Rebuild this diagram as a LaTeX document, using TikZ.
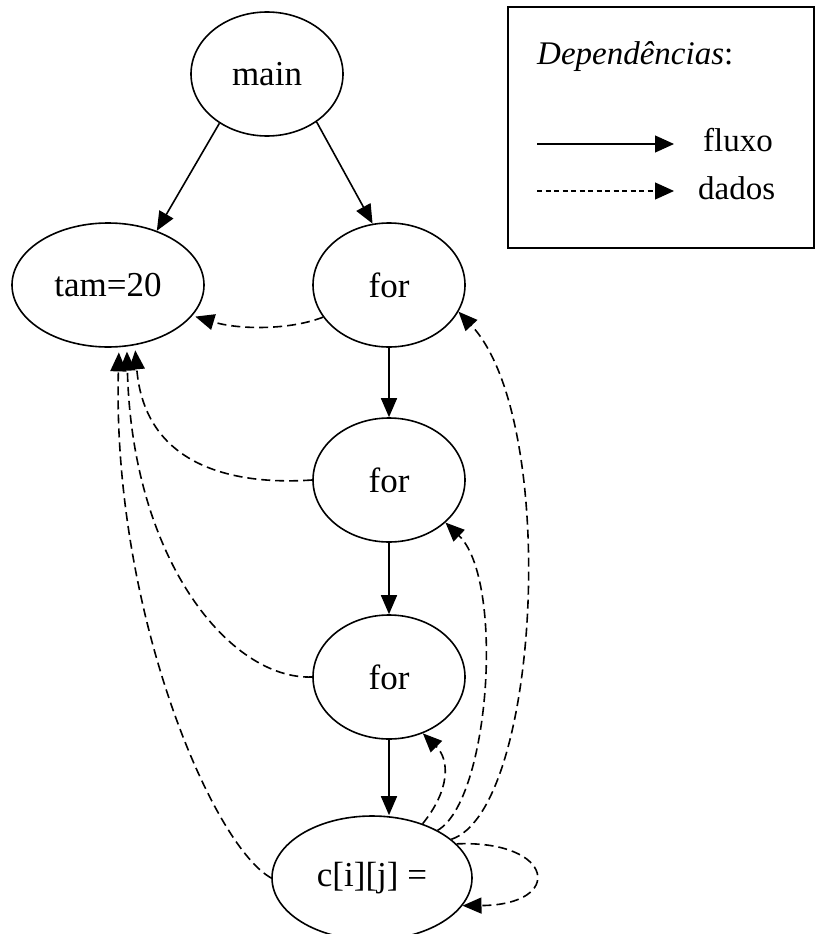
\documentclass[tikz,border=0pt]{standalone}
\usepackage{fontspec}
\setmainfont{Liberation Serif}
\usetikzlibrary{shapes.geometric,arrows.meta}
\begin{document}
\begin{tikzpicture}[x=1pt,y=-1pt,
  stmt/.style={ellipse,draw,line width=1.6pt,inner sep=0pt,
    minimum width=152pt,minimum height=124pt,
    font=\fontsize{35}{40}\selectfont},
  flow/.style={line width=1.6pt,-{Triangle[length=19pt,width=16pt]}},
  data/.style={line width=1.6pt,dash pattern=on 9pt off 5pt,
    -{Triangle[length=19pt,width=16pt]}},
  legflow/.style={line width=1.2pt,-{Triangle[length=19pt,width=17pt]}},
  legdata/.style={line width=1.2pt,dash pattern=on 5pt off 3.5pt,
    -{Triangle[length=19pt,width=17pt]}},
  legtext/.style={anchor=west,inner sep=0pt,font=\fontsize{33}{38}\selectfont}]
\useasboundingbox (0,0) rectangle (816,934);

% statements
\node[stmt] (main) at (267,74) {main};
\node[stmt,minimum width=192pt] (tam) at (108,285) {tam=20};
\node[stmt] (f1) at (389,285) {for};
\node[stmt] (f2) at (389,480) {for};
\node[stmt] (f3) at (389,677) {for};
\node[stmt,minimum width=200pt] (c) at (372,878) {c[i][j] =};

% control flow
\draw[flow] (main.226) -- (tam.48);
\draw[flow] (main.-44) -- (f1.105);
\draw[flow] (f1.south) -- (f2.north);
\draw[flow] (f2.south) -- (f3.north);
\draw[flow] (f3.south) -- (c.north -| f3.south);

% data dependences
\draw[data,shorten >=3pt] (f1.206) .. controls (290,330) and (240,330) .. (tam.-20);
\draw[data,shorten >=5pt] (f2.west) .. controls (240,485) and (145,470) .. (tam.-66);
\draw[data,shorten >=5pt] (f3.west) .. controls (230,680) and (132,560) .. (tam.-73);
\draw[data,shorten >=5pt] (c.west) .. controls (212,845) and (112,610) .. (tam.-80);
\draw[data] (c.26) .. controls (540,810) and (560,420) .. (f1.-21);
\draw[data] (c.36) .. controls (490,800) and (505,580) .. (f2.-37);
\draw[data] (c.47) .. controls (450,790) and (450,760) .. (f3.-59);
\draw[data] (c.22) .. controls (555,840) and (565,905) .. (c.-17);

% legend
\node[draw,line width=1.2pt,minimum width=306pt,minimum height=241pt,
  inner sep=0pt] (legend) at (661,127.5) {};
\node[legtext] (title) at (537,57) {\textit{Dependências}:};
\coordinate (fa) at (537,144);
\coordinate (fb) at (674,144);
\coordinate (da) at (537,191);
\coordinate (db) at (674,191);
\draw[legflow] (fa) -- (fb);
\draw[legdata] (da) -- (db);
\node[legtext] (lfluxo) at (703,140) {fluxo};
\node[legtext] (ldados) at (698,188) {dados};
\end{tikzpicture}
\end{document}
